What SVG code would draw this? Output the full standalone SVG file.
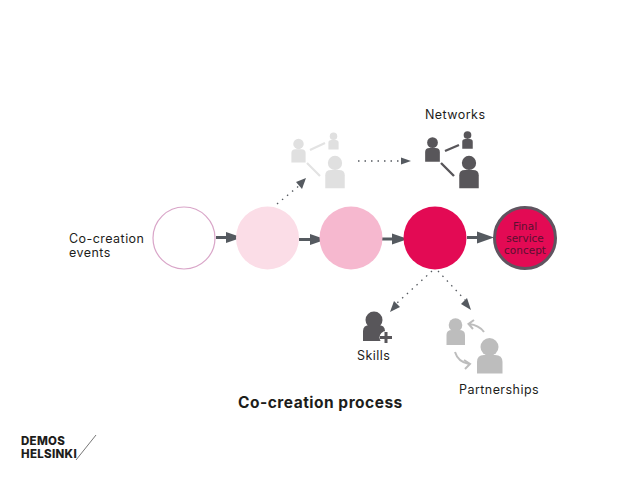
<svg xmlns="http://www.w3.org/2000/svg" width="638" height="479" viewBox="0 0 638 479">
<style>
text{font-family:Inter,"Open Sans","Liberation Sans",sans-serif;fill:#1d1d1b}
.l{font-size:12.5px;letter-spacing:.45px}
.c{font-family:"DejaVu Sans",sans-serif;font-size:10.500px;fill:#5a1030;text-anchor:middle}
.fl{stroke:#555a60;stroke-width:3;fill:none}
.d{stroke:#555a60;stroke-width:1.3;stroke-dasharray:1.5 5;fill:none}
.ah{fill:#555a60}
.dk{fill:#58565a}.dk2{stroke:#58565a;stroke-width:2.4;fill:none}
.lt{fill:#e0e0e0}.lt2{stroke:#e3e3e3;stroke-width:2.2;fill:none}
.md{fill:#bdbdbd}.md2{stroke:#bdbdbd;stroke-width:2;fill:none}
</style>
<defs>
<g id="p"><circle cx="0" cy="-8.500" r="5.500"/><path d="M-7.500 11V1Q-7.500-3-3-3H3Q7.500-3 7.500 1V11Z"/></g>
</defs>
<g id="connectors">
<path class="fl" d="M216 237.500H228"/><path class="ah" d="M226 232 242 237.500 226 243Z"/>
<path class="fl" d="M299 239.500H312"/><path class="ah" d="M310 234 326 239.500 310 245Z"/>
<path class="fl" d="M382 239H394"/><path class="ah" d="M392 233.500 408 239 392 244.500Z"/>
<path class="fl" d="M467 237.500H480"/><path class="ah" d="M477 231.500 494 237.500 477 243.500Z"/>
<path class="d" d="M277 204 300 185"/><path class="ah" d="M306 178 302 189 296 182Z"/>
<path class="d" d="M358 161H400"/><path class="ah" d="M411 161 401 164.500V157.500Z"/>
<path class="d" d="M432 271 397 303"/><path class="ah" d="M390 312 394 301 400 307Z"/>
<path class="d" d="M438 271 465 300"/><path class="ah" d="M471 310 461 304 467 298Z"/>
</g>
<g id="node-events"><circle cx="184" cy="238" r="31" fill="#fff" stroke="#d9a5c8" stroke-width="1.200"/></g>
<g id="node-step2"><circle cx="267.500" cy="238" r="31.500" fill="#fbdde7"/></g>
<g id="node-step3"><circle cx="351" cy="238" r="31.500" fill="#f6b8cf"/></g>
<g id="node-step4"><circle cx="435" cy="238" r="31.500" fill="#e30a54"/></g>
<g id="node-final"><circle cx="525" cy="238" r="30.500" fill="#e30a54" stroke="#5f5560" stroke-width="3"/>
<text class="c" x="525" y="230">Final</text><text class="c" x="525" y="242">service</text><text class="c" x="525" y="254">concept</text></g>
<g id="label-events"><text class="l" x="69" y="243">Co-creation</text><text class="l" x="69" y="257">events</text></g>
<g id="node-networks-faded" class="lt">
<use href="#p" transform="translate(298.500 152) scale(.95)"/>
<use href="#p" transform="translate(333.500 142) scale(.68)"/>
<use href="#p" transform="translate(335 174) scale(1.300)"/>
<path class="lt2" d="M310 150 325 143M307 163 320 176"/>
</g>
<g id="node-networks" class="dk">
<use href="#p" transform="translate(432.500 151) scale(.98)"/>
<use href="#p" transform="translate(467.500 141) scale(.7)"/>
<use href="#p" transform="translate(469 174) scale(1.300)"/>
<path class="dk2" d="M445 151 459 145M441 163 454 176"/>
<text class="l" x="425" y="119" style="fill:#1d1d1b">Networks</text>
</g>
<g id="node-skills" class="dk">
<circle cx="374" cy="320" r="8.500"/><path d="M363 341V331Q363 325 370 325H378Q385 325 385 331V341Z"/>
<circle cx="386" cy="337.500" r="6.500" fill="#fff"/>
<path d="M384.500 332H387.500V336H392V339H387.500V343H384.500V339H380V336H384.500Z"/>
<text class="l" x="357" y="360" style="fill:#1d1d1b">Skills</text>
</g>
<g id="node-partnerships" class="md">
<circle cx="455.500" cy="325" r="6.800"/><path d="M446.500 345V335Q446.500 330 452 330H459Q465 330 465 335V345Z"/>
<circle cx="489.500" cy="347" r="9"/><path d="M477 373.500V362Q477 355 484 355H495Q502.500 355 502.500 362V373.500Z"/>
<path class="md2" d="M484 332Q479 325 469 324M474 320 468.500 324 473 329M455 352Q458 362 469 364M465 369 470 364 464 360"/>
<text class="l" x="459" y="394" style="fill:#1d1d1b">Partnerships</text>
</g>
<text x="238" y="408" font-size="15.500" font-weight="700" letter-spacing=".5">Co-creation process</text>
<g id="logo">
<text x="21" y="444.500" font-size="11.500" font-weight="800" letter-spacing=".3">DEMOS</text>
<text x="21" y="458" font-size="11.500" font-weight="800" letter-spacing=".3">HELSINKI</text>
<path d="M76 460 96 435" stroke="#777" stroke-width="1" fill="none"/>
</g>
</svg>
